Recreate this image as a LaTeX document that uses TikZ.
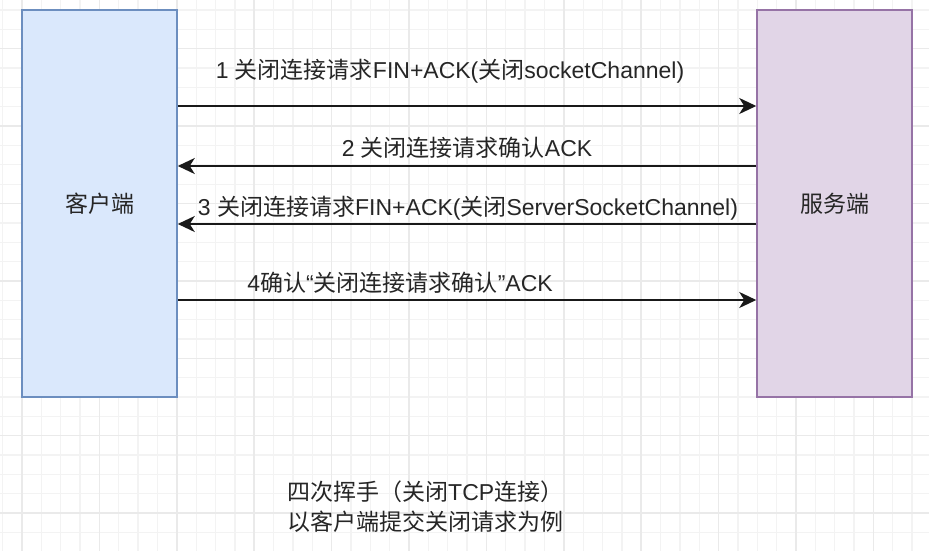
\documentclass[tikz,border=0pt]{standalone}
\usepackage{fontspec}
\setmainfont{Liberation Sans}
\newfontfamily\cjk{Noto Sans CJK SC}
\usepackage{xcolor}
\usetikzlibrary{arrows.meta,positioning}

\definecolor{clientfill}{HTML}{DAE8FC}
\definecolor{clientline}{HTML}{6C8EBF}
\definecolor{serverfill}{HTML}{E1D5E7}
\definecolor{serverline}{HTML}{9673A6}
\definecolor{gridminor}{HTML}{F3F3F3}
\definecolor{gridmajor}{HTML}{EAEAEA}
\newcommand{\zh}[1]{{\cjk #1}}

\begin{document}
\begin{tikzpicture}[x=1pt, y=-1pt,
        peer/.style={rectangle, line width=1.5pt, minimum width=155pt, minimum height=387pt, align=center, text=black!85, font=\fontsize{23}{28}\selectfont},
        client/.style={peer, draw=clientline, fill=clientfill},
        server/.style={peer, draw=serverline, fill=serverfill},
        msg/.style={-{Stealth[length=17pt, width=16pt, inset=5pt]}, line width=2pt, black!90},
        msglabel/.style={inner sep=0pt, anchor=base, text=black!85, font=\fontsize{23}{28}\selectfont},
        notetext/.style={inner sep=0pt, anchor=base west, text=black!85, font=\fontsize{23}{28}\selectfont}
    ]

    \useasboundingbox[fill=white] (0,0) rectangle (929,551);

    % background grid
    \foreach \i in {-1,...,46} {
        \draw[gridminor, line width=1.3pt] ({22+19.35*\i},0) -- ({22+19.35*\i},551);
    }
    \foreach \j in {0,...,28} {
        \draw[gridminor, line width=1.3pt] (0,{10+19.35*\j}) -- (929,{10+19.35*\j});
    }
    \foreach \i in {0,4,...,44} {
        \draw[gridmajor, line width=1.5pt] ({22+19.35*\i},0) -- ({22+19.35*\i},551);
    }
    \foreach \j in {2,6,...,26} {
        \draw[gridmajor, line width=1.5pt] (0,{10+19.35*\j}) -- (929,{10+19.35*\j});
    }

    % the two endpoints
    \node[client] (client) at (99.5, 203.5) {\zh{客户端}};
    \node[server] (server) at (834.5, 203.5) {\zh{服务端}};

    % message levels
    \coordinate (m1) at (467, 106);
    \coordinate (m2) at (467, 166);
    \coordinate (m3) at (467, 224);
    \coordinate (m4) at (467, 300);

    % messages
    \draw[msg] (client.east |- m1) -- (server.west |- m1);
    \node[msglabel] (l1) at (450, 78.5) {1 \zh{关闭连接请求}FIN+ACK(\zh{关闭}socketChannel)};

    \draw[msg] (server.west |- m2) -- (client.east |- m2);
    \node[msglabel] (l2) at (467, 156.5) {2 \zh{关闭连接请求确认}ACK};

    \draw[msg] (server.west |- m3) -- (client.east |- m3);
    \node[msglabel] (l3) at (468, 215.5) {3 \zh{关闭连接请求}FIN+ACK(\zh{关闭}ServerSocketChannel)};

    \draw[msg] (client.east |- m4) -- (server.west |- m4);
    \node[msglabel] (l4) at (400, 291.5) {4\zh{确认}“\zh{关闭连接请求确认}”ACK};

    % caption
    \node[notetext] (note1) at (287, 500.5) {\zh{四次挥手（关闭}TCP\zh{连接）}};
    \node[notetext] (note2) at (287, 530.5) {\zh{以客户端提交关闭请求为例}};

\end{tikzpicture}
\end{document}
